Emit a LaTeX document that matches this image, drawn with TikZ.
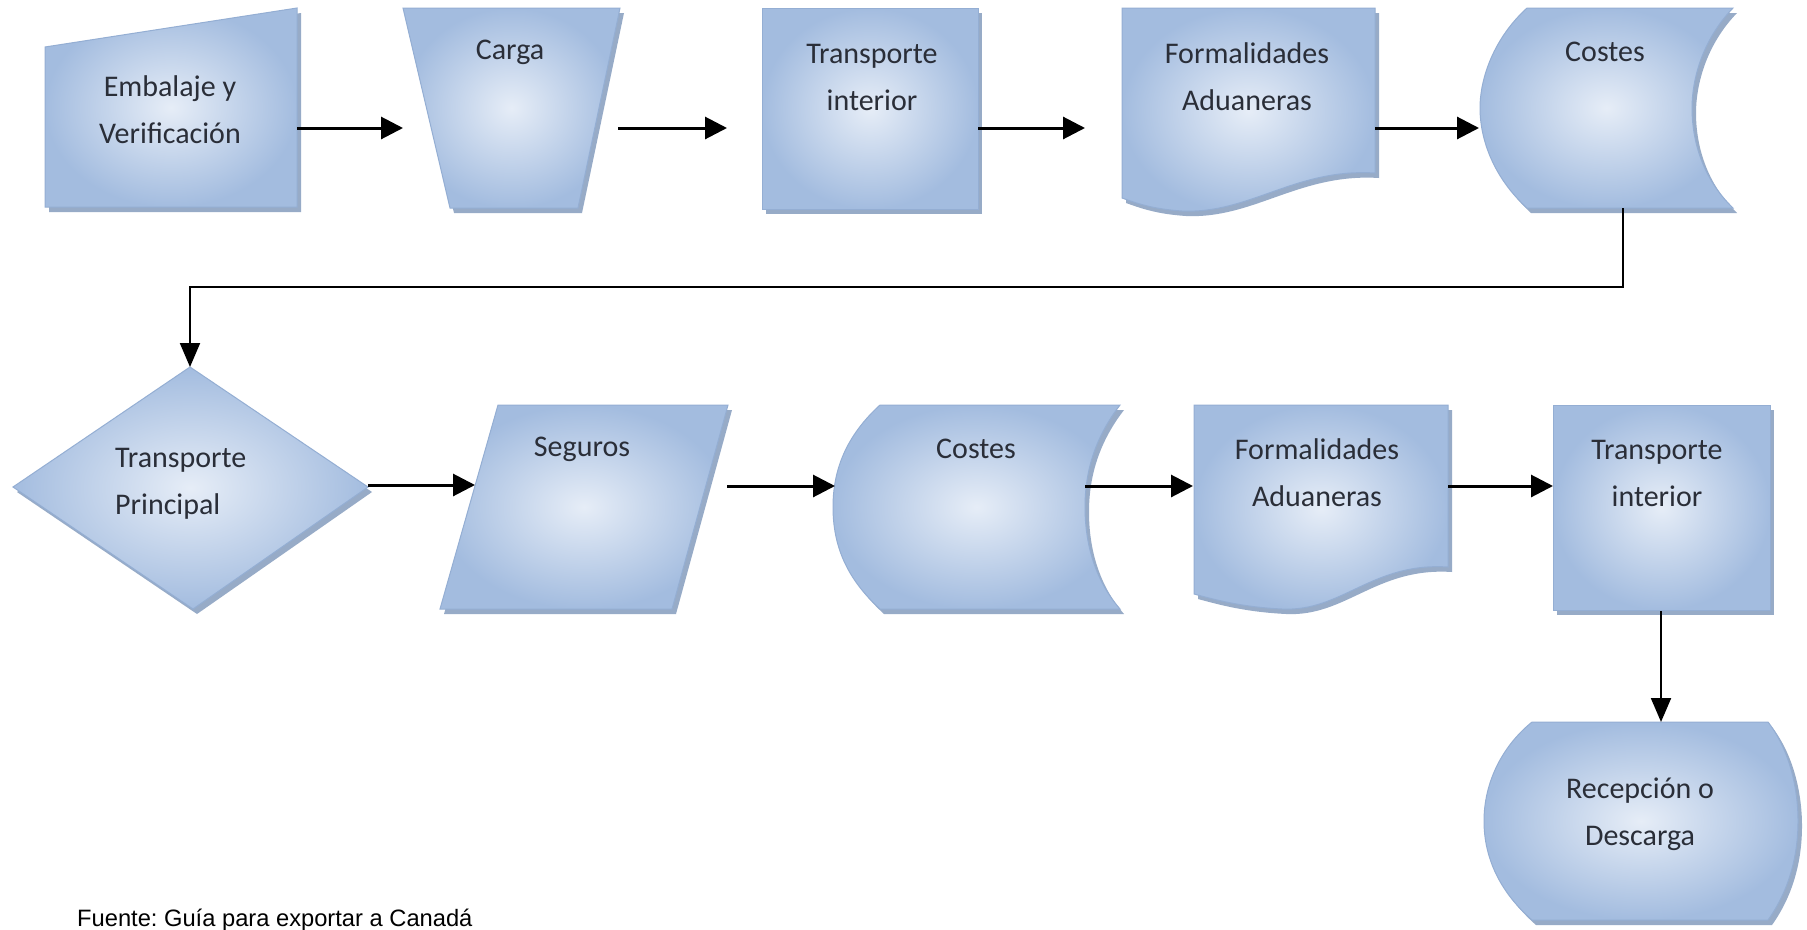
\documentclass[tikz,border=0pt]{standalone}
\usepackage{fontspec}
\setmainfont{Carlito}
\newfontfamily\srcfont{Liberation Sans}
\usetikzlibrary{arrows.meta,shadows}
\definecolor{fillin}{HTML}{E6EDF7}
\definecolor{fillout}{HTML}{A3BCDF}
\definecolor{edgec}{HTML}{94AED3}
\definecolor{shadec}{HTML}{8CA2C2}
\definecolor{txtc}{HTML}{2A2E38}
\tikzset{
 blk/.style={draw=edgec, line width=1pt, inner color=fillin, outer color=fillout,
   drop shadow={shadow xshift=4pt, shadow yshift=-5pt, fill=shadec, opacity=0.9}},
 lbl/.style={text=txtc, font=\fontsize{30}{47}\selectfont, align=center, inner sep=0pt},
 arr/.style={line width=3pt, -{Triangle[length=22pt,width=22pt]}},
 fine/.style={line width=2pt, -{Triangle[length=24pt,width=20pt]}},
}
\frenchspacing
\begin{document}
\begin{tikzpicture}[x=1pt,y=-1pt]
\useasboundingbox[fill=white] (0,0) rectangle (1807,929);
% row 1 shapes
\path[blk] (45,47) -- (297,8) -- (297,207) -- (45,207) -- cycle;
\path[blk] (403,8) -- (620,8) -- (578,208) -- (450,208) -- cycle;
\path[blk] (762,8) rectangle (978,209);
\path[blk] (1122,8) -- (1375,8) -- (1375,173) .. controls (1295,168) and (1250,214) .. (1182,211) .. controls (1152,209) and (1136,203) .. (1122,198) -- cycle;
\path[blk] (1527,8) -- (1733,8) .. controls (1702,40) and (1692,80) .. (1692,108) .. controls (1692,140) and (1702,178) .. (1733,208) -- (1527,208) .. controls (1494,178) and (1480,140) .. (1480,108) .. controls (1480,78) and (1494,38) .. (1527,8) -- cycle;
% row 2 shapes
\path[blk] (190,367) -- (368,487) -- (193,609) -- (13,487) -- cycle;
\path[blk] (498,405) -- (728,405) -- (672,609) -- (440,609) -- cycle;
\path[blk] (880,405) -- (1120,405) .. controls (1093,440) and (1085,475) .. (1085,507) .. controls (1085,540) and (1093,578) .. (1120,609) -- (880,609) .. controls (846,578) and (833,545) .. (833,507) .. controls (833,470) and (846,436) .. (880,405) -- cycle;
\path[blk] (1194,405) -- (1448,405) -- (1448,567) .. controls (1372,562) and (1342,612) .. (1282,609) .. controls (1242,607) and (1216,600) .. (1194,594) -- cycle;
\path[blk] (1553,405) rectangle (1770,610);
\path[blk] (1532,722) -- (1768,722) .. controls (1788,748) and (1798,785) .. (1798,821) .. controls (1798,858) and (1788,892) .. (1768,920) -- (1532,920) .. controls (1500,892) and (1484,858) .. (1484,821) .. controls (1484,785) and (1500,748) .. (1532,722) -- cycle;
% labels
\node[lbl] (emb) at (170,110) {Embalaje y\\Verificación};
\node[lbl] (carga) at (510,52) {Carga};
\node[lbl] (tri1) at (872,77) {Transporte\\interior};
\node[lbl] (fad1) at (1247,77) {Formalidades\\Aduaneras};
\node[lbl] (cos1) at (1605,52) {Costes};
\node[lbl, align=left, anchor=west] (tpr) at (115,484) {Transporte\\Principal};
\node[lbl] (seg) at (582,449) {Seguros};
\node[lbl] (cos2) at (976,449) {Costes};
\node[lbl] (fad2) at (1317,473) {Formalidades\\Aduaneras};
\node[lbl] (tri2) at (1657,473) {Transporte\\interior};
\node[lbl] (rec) at (1640,814) {Recepción o\\Descarga};
\node[anchor=west, inner sep=0pt, font=\srcfont\fontsize{23.7}{28}\selectfont] (src) at (77,920) {Fuente: Guía para exportar a Canadá};
% connector points
\coordinate (a1s) at (297,128); \coordinate (a1e) at (403,128);
\coordinate (a2s) at (618,128); \coordinate (a2e) at (727,128);
\coordinate (a3s) at (978,128); \coordinate (a3e) at (1085,128);
\coordinate (a4s) at (1375,128); \coordinate (a4e) at (1479,128);
\coordinate (c1s) at (1623,208); \coordinate (c1m) at (1623,287);
\coordinate (c1n) at (190,287); \coordinate (c1e) at (190,367);
\coordinate (b1s) at (368,485); \coordinate (b1e) at (475,485);
\coordinate (b2s) at (727,486); \coordinate (b2e) at (835,486);
\coordinate (b3s) at (1085,486); \coordinate (b3e) at (1193,486);
\coordinate (b4s) at (1448,486); \coordinate (b4e) at (1553,486);
\coordinate (d1s) at (1661,611); \coordinate (d1e) at (1661,722);
% connectors
\draw[arr] (a1s) -- (a1e);
\draw[arr] (a2s) -- (a2e);
\draw[arr] (a3s) -- (a3e);
\draw[arr] (a4s) -- (a4e);
\draw[fine] (c1s) -- (c1m) -- (c1n) -- (c1e);
\draw[arr] (b1s) -- (b1e);
\draw[arr] (b2s) -- (b2e);
\draw[arr] (b3s) -- (b3e);
\draw[arr] (b4s) -- (b4e);
\draw[fine] (d1s) -- (d1e);
\end{tikzpicture}
\end{document}
